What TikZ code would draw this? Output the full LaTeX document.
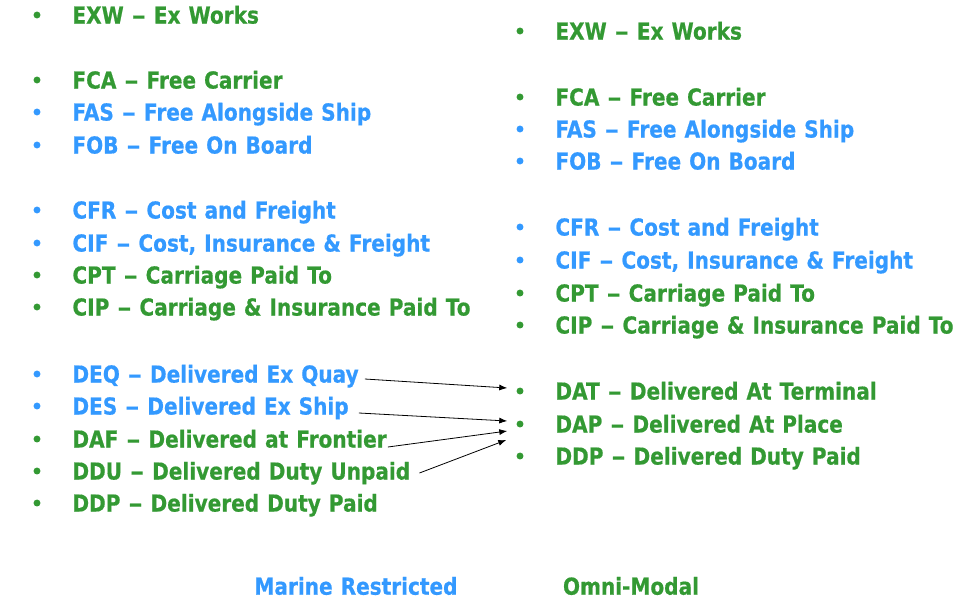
\documentclass[tikz,border=0pt]{standalone}
\usepackage{fontspec}
\setmainfont[FakeStretch=0.86, WordSpace=1.15, BoldFeatures={FakeBold=0.6}]{DejaVu Sans}
\usepackage{xcolor}
\usetikzlibrary{arrows.meta, positioning, calc}

\definecolor{termgreen}{HTML}{339933}
\definecolor{termblue}{HTML}{3399FF}
\newcommand{\tdash}{\scalebox{1.4}[1]{--}}

\begin{document}
\begin{tikzpicture}[
    x=0.75pt, y=-0.75pt,
    dot/.style={circle, inner sep=0pt, minimum size=5.2pt},
    term/.style={inner sep=0pt, font=\bfseries\fontsize{17.5}{20}\selectfont,
                 text height=12.8pt, text depth=0pt, right=23.6pt of #1},
    gdot/.style={dot, fill=termgreen},
    bdot/.style={dot, fill=termblue},
    gterm/.style={term=#1, text=termgreen},
    bterm/.style={term=#1, text=termblue},
    arr/.style={-{Latex[length=6pt, width=4.5pt]}, line width=0.6pt},
  ]
    \useasboundingbox (0,0) rectangle (977,607);

    % Marine restricted column (2000)
    \node[gdot] (exwDa) at (37,15) {};
    \node[gterm=exwDa] (exwL) {EXW \tdash{} Ex Works};

    \node[gdot] (fcaDa) at (37,80) {};
    \node[gterm=fcaDa] (fcaL) {FCA \tdash{} Free Carrier};
    \node[bdot] (fasDa) at (37,112) {};
    \node[bterm=fasDa] (fasL) {FAS \tdash{} Free Alongside Ship};
    \node[bdot] (fobDa) at (37,145) {};
    \node[bterm=fobDa] (fobL) {FOB \tdash{} Free On Board};

    \node[bdot] (cfrDa) at (37,210) {};
    \node[bterm=cfrDa] (cfrL) {CFR \tdash{} Cost and Freight};
    \node[bdot] (cifDa) at (37,243) {};
    \node[bterm=cifDa] (cifL) {CIF \tdash{} Cost, Insurance \& Freight};
    \node[gdot] (cptDa) at (37,275) {};
    \node[gterm=cptDa] (cptL) {CPT \tdash{} Carriage Paid To};
    \node[gdot] (cipDa) at (37,307) {};
    \node[gterm=cipDa] (cipL) {CIP \tdash{} Carriage \& Insurance Paid To};

    \node[bdot] (deqDa) at (37,374) {};
    \node[bterm=deqDa] (deqL) {DEQ \tdash{} Delivered Ex Quay};
    \node[bdot] (desDa) at (37,406) {};
    \node[bterm=desDa] (desL) {DES \tdash{} Delivered Ex Ship};
    \node[gdot] (dafDa) at (37,439) {};
    \node[gterm=dafDa] (dafL) {DAF \tdash{} Delivered at Frontier};
    \node[gdot] (dduDa) at (37,471) {};
    \node[gterm=dduDa] (dduL) {DDU \tdash{} Delivered Duty Unpaid};
    \node[gdot] (ddpDa) at (37,503) {};
    \node[gterm=ddpDa] (ddpL) {DDP \tdash{} Delivered Duty Paid};

    % Omni-modal column (2010)
    \node[gdot] (exwDb) at (520,31) {};
    \node[gterm=exwDb] (exwR) {EXW \tdash{} Ex Works};

    \node[gdot] (fcaDb) at (520,97) {};
    \node[gterm=fcaDb] (fcaR) {FCA \tdash{} Free Carrier};
    \node[bdot] (fasDb) at (520,129) {};
    \node[bterm=fasDb] (fasR) {FAS \tdash{} Free Alongside Ship};
    \node[bdot] (fobDb) at (520,161) {};
    \node[bterm=fobDb] (fobR) {FOB \tdash{} Free On Board};

    \node[bdot] (cfrDb) at (520,227) {};
    \node[bterm=cfrDb] (cfrR) {CFR \tdash{} Cost and Freight};
    \node[bdot] (cifDb) at (520,260) {};
    \node[bterm=cifDb] (cifR) {CIF \tdash{} Cost, Insurance \& Freight};
    \node[gdot] (cptDb) at (520,293) {};
    \node[gterm=cptDb] (cptR) {CPT \tdash{} Carriage Paid To};
    \node[gdot] (cipDb) at (520,325) {};
    \node[gterm=cipDb] (cipR) {CIP \tdash{} Carriage \& Insurance Paid To};

    \node[gdot] (datDb) at (520,391) {};
    \node[gterm=datDb] (datR) {DAT \tdash{} Delivered At Terminal};
    \node[gdot] (dapDb) at (520,424) {};
    \node[gterm=dapDb] (dapR) {DAP \tdash{} Delivered At Place};
    \node[gdot] (ddpDb) at (520,456) {};
    \node[gterm=ddpDb] (ddpR) {DDP \tdash{} Delivered Duty Paid};

    % Column captions
    \node[font=\bfseries\fontsize{17.5}{20}\selectfont, text=termblue] (marine)
      at (356,586) {Marine Restricted};
    \node[font=\bfseries\fontsize{17.5}{20}\selectfont, text=termgreen] (omni)
      at (631,586) {Omni-Modal};

    % Replaced D-terms
    \draw[arr] ($(deqL.east)+(6,5)$) -- ($(datDb.west)+(-9,-3)$);
    \draw[arr] ($(desL.east)+(10,7)$) -- ($(dapDb.west)+(-9,-3)$);
    \draw[arr] ($(dafL.east)+(1,8)$) -- ($(dapDb.west)+(-9,7)$);
    \draw[arr] ($(dduL.east)+(9,2)$) -- ($(dapDb.west)+(-10,16)$);
\end{tikzpicture}
\end{document}
